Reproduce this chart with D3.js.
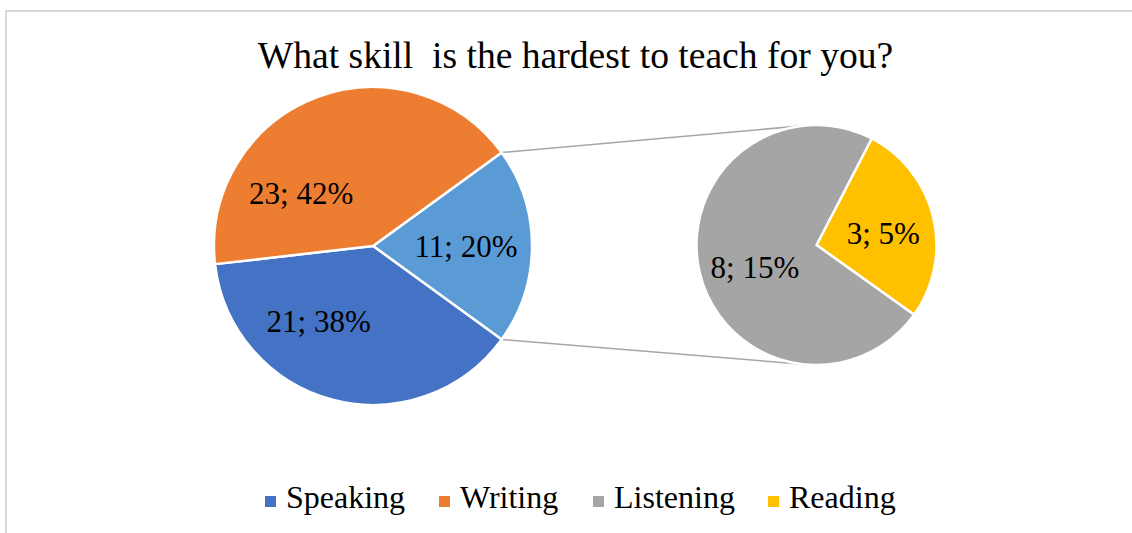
<!DOCTYPE html>
<html>
<head>
<meta charset="utf-8">
<script src="https://cdn.jsdelivr.net/npm/d3@7"></script>
<style>
  html, body { margin: 0; padding: 0; background: #fff; }
  svg text { font-family: "Liberation Serif", "Times New Roman", serif; fill: #000; white-space: pre; }
</style>
</head>
<body>
<svg id="chart" width="1132" height="533"></svg>
<script>
// ---- data ----
const title = "What skill  is the hardest to teach for you?";
const categories = ["Speaking", "Writing", "Listening", "Reading"];
const values = [21, 23, 8, 3];
const percents = ["38%", "42%", "15%", "5%"];
const otherLabel = "Other";
const otherPercent = "20%";
const mainCategories = ["Speaking", "Writing"];
const secondCategories = ["Listening", "Reading"];
const colors = ["#4472C4", "#ED7D31", "#A5A5A5", "#FFC000"];
const otherColor = "#5B9BD5";

// ---- layout ----
const W = 1132, H = 533;
const svg = d3.select("#chart");
const deg = Math.PI / 180;

svg.append("path")
  .attr("d", `M6,${H} L6,11 L${W},11`)
  .attr("fill", "none").attr("stroke", "#d9d9d9").attr("stroke-width", 2);

svg.append("text")
  .attr("x", 575.5).attr("y", 68)
  .attr("text-anchor", "middle")
  .attr("font-size", 37.6)
  .text(title);

const byName = n => ({ name: n, value: values[categories.indexOf(n)], color: colors[categories.indexOf(n)], pct: percents[categories.indexOf(n)] });
const secondItems = secondCategories.map(byName);
const otherValue = d3.sum(secondItems, d => d.value);
const mainItems = [{ name: otherLabel, value: otherValue, color: otherColor, pct: otherPercent }].concat(mainCategories.map(byName));
const total = d3.sum(mainItems, d => d.value);

// main pie
const mainC = { x: 373, y: 246, r: 159 };
const otherSpan = otherValue / total * 2 * Math.PI;
const mainStart = Math.PI / 2 - otherSpan / 2;
const mainPie = d3.pie().sort(null).value(d => d.value)
  .startAngle(mainStart).endAngle(mainStart + 2 * Math.PI);
const mainArcs = mainPie(mainItems);

// secondary pie (Reading first clockwise)
const secC = { x: 816.5, y: 245, r: 120 };
const secOrder = secondItems.slice().reverse();
const secStart = 27.4 * deg;
const secPie = d3.pie().sort(null).value(d => d.value)
  .startAngle(secStart).endAngle(secStart + 2 * Math.PI);
const secArcs = secPie(secOrder);

// connector lines (tangents from split points of "Other" slice to secondary circle)
const otherArc = mainArcs[0];
function ptOn(c, a) { return [c.x + c.r * Math.sin(a), c.y - c.r * Math.cos(a)]; }
function tangent(p, c, sign) {
  const dx = c.x - p[0], dy = c.y - p[1];
  const d = Math.hypot(dx, dy);
  const base = Math.atan2(dy, dx);
  const half = Math.asin(c.r / d);
  const ang = base + sign * half;
  const L = Math.sqrt(d * d - c.r * c.r);
  return [p[0] + L * Math.cos(ang), p[1] + L * Math.sin(ang)];
}
const pTop = ptOn(mainC, otherArc.startAngle);
const pBot = ptOn(mainC, otherArc.endAngle);
[[pTop, tangent(pTop, secC, -1)], [pBot, tangent(pBot, secC, 1)]].forEach(seg => {
  svg.append("line")
    .attr("x1", seg[0][0]).attr("y1", seg[0][1])
    .attr("x2", seg[1][0]).attr("y2", seg[1][1])
    .attr("stroke", "#a6a6a6").attr("stroke-width", 1.5);
});

const mainArcGen = d3.arc().innerRadius(0).outerRadius(mainC.r);
const gMain = svg.append("g").attr("transform", `translate(${mainC.x},${mainC.y})`);
gMain.selectAll("path").data(mainArcs).join("path")
  .attr("d", mainArcGen).attr("fill", d => d.data.color)
  .attr("stroke", "#fff").attr("stroke-width", 2.5).attr("stroke-linejoin", "round");

const secArcGen = d3.arc().innerRadius(0).outerRadius(secC.r);
const gSec = svg.append("g").attr("transform", `translate(${secC.x},${secC.y})`);
gSec.selectAll("path").data(secArcs).join("path")
  .attr("d", secArcGen).attr("fill", d => d.data.color)
  .attr("stroke", "#fff").attr("stroke-width", 2.5).attr("stroke-linejoin", "round");

// data labels: [fraction along slice angle, fraction of radius]
const labelPlace = { "Other": [0.5, 0.585], "Speaking": [0.653, 0.585], "Writing": [0.284, 0.56], "Reading": [0.534, 0.565], "Listening": [0.476, 0.545] };
function drawLabels(g, arcs, r) {
  g.selectAll("text").data(arcs).join("text")
    .attr("text-anchor", "middle")
    .attr("font-size", 31)
    .attr("dy", "0.34em")
    .attr("transform", d => {
      const p = labelPlace[d.data.name];
      const a = d.startAngle + (d.endAngle - d.startAngle) * p[0];
      return `translate(${r * p[1] * Math.sin(a)},${-r * p[1] * Math.cos(a)})`;
    })
    .text(d => `${d.data.value}; ${d.data.pct}`);
}
drawLabels(gMain, mainArcs, mainC.r);
drawLabels(gSec, secArcs, secC.r);

// legend
const legX = [265, 439, 593, 768];
const legend = svg.append("g");
categories.forEach((c, i) => {
  legend.append("rect").attr("x", legX[i]).attr("y", 496).attr("width", 11).attr("height", 11).attr("fill", colors[i]);
  legend.append("text").attr("x", legX[i] + 21).attr("y", 508).attr("font-size", 32).text(c);
});
</script>
</body>
</html>
